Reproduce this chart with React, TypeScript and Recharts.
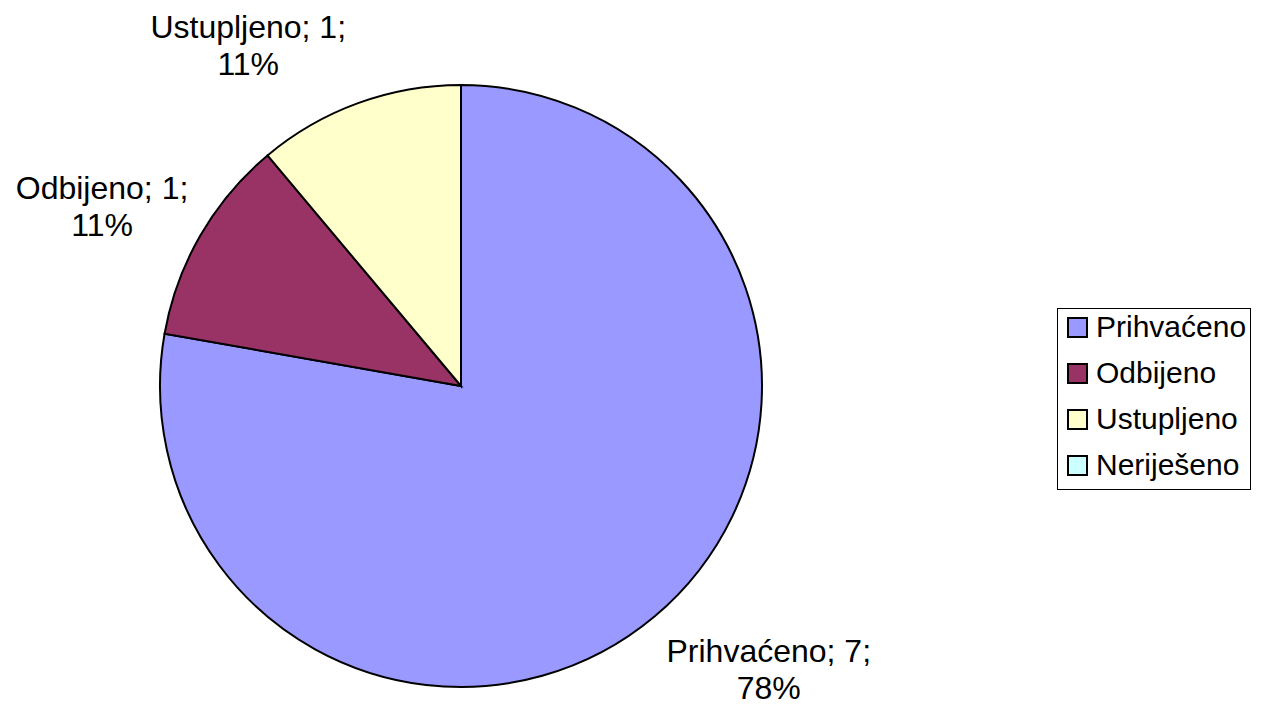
import React from 'react';
import { PieChart, Pie, Cell, Legend } from 'recharts';

const categories = ['Prihvaćeno', 'Odbijeno', 'Ustupljeno', 'Neriješeno'];
const values = [7, 1, 1, 0];
const colors = ['#9999FF', '#993366', '#FFFFCC', '#CCFFFF'];

const data = categories.map((name, i) => ({ name, value: values[i] }));

const FONT = "'Liberation Sans', Arial, sans-serif";
const LABEL_SIZE = 32;
const LEGEND_SIZE = 30;

function measure(text: string, size: number): number {
  if (typeof document !== 'undefined') {
    const ctx = document.createElement('canvas').getContext('2d');
    if (ctx) {
      ctx.font = `${size}px ${FONT}`;
      return ctx.measureText(text).width;
    }
  }
  return text.length * size * 0.5;
}

const renderLabel = (props: any) => {
  const { cx, cy, midAngle, outerRadius, percent, name, value } = props;
  if (!value) return null;
  const rad = Math.PI / 180;
  const cos = Math.cos(-midAngle * rad);
  const sin = Math.sin(-midAngle * rad);
  const px = cx + outerRadius * cos;
  const py = cy + outerRadius * sin;
  const line1 = `${name}; ${value};`;
  const line2 = `${Math.round(percent * 100)}%`;
  const w = Math.max(measure(line1, LABEL_SIZE), measure(line2, LABEL_SIZE));
  const gap = 12;
  const xc = cos >= 0 ? px + gap + w / 2 : px - gap - w / 2;
  const yc = py + sin * 65 + 4;
  const b1 = yc - 8;
  return (
    <text fill="#000" fontSize={LABEL_SIZE} fontFamily={FONT} textAnchor="middle">
      <tspan x={xc} y={b1}>{line1}</tspan>
      <tspan x={xc} y={b1 + 37}>{line2}</tspan>
    </text>
  );
};

const renderLegend = () => (
  <div
    style={{
      position: 'relative',
      width: 194,
      height: 182,
      border: '1px solid #000',
      boxSizing: 'border-box',
      background: '#fff',
      fontFamily: FONT,
      fontSize: LEGEND_SIZE,
      color: '#000',
    }}
  >
    {categories.map((c, i) => (
      <div
        key={c}
        style={{
          position: 'absolute',
          left: 9,
          top: 3 + 46 * i,
          height: 30,
          lineHeight: '30px',
          display: 'flex',
          alignItems: 'center',
          whiteSpace: 'nowrap',
        }}
      >
        <span
          style={{
            display: 'inline-block',
            width: 21,
            height: 21,
            boxSizing: 'border-box',
            border: '2px solid #000',
            background: colors[i],
            marginRight: 8,
          }}
        />
        <span>{c}</span>
      </div>
    ))}
  </div>
);

export default function App() {
  return (
    <div style={{ position: 'absolute', left: 0, top: 0, width: 1264, height: 707, background: '#fff' }}>
      <PieChart width={1264} height={707} margin={{ top: 0, right: 0, bottom: 0, left: 0 }}>
        <Pie
          data={data}
          dataKey="value"
          nameKey="name"
          cx={461}
          cy={386}
          outerRadius={301}
          startAngle={90}
          endAngle={-270}
          stroke="#000"
          strokeWidth={2}
          label={renderLabel}
          labelLine={false}
          isAnimationActive={false}
        >
          {data.map((d, i) => (
            <Cell key={d.name} fill={colors[i]} stroke="#000" strokeWidth={2} />
          ))}
        </Pie>
        <Legend
          layout="vertical"
          align="right"
          verticalAlign="top"
          content={renderLegend}
          wrapperStyle={{ position: 'absolute', left: 1057, top: 308, right: 'auto', width: 194, height: 182 }}
        />
      </PieChart>
    </div>
  );
}
